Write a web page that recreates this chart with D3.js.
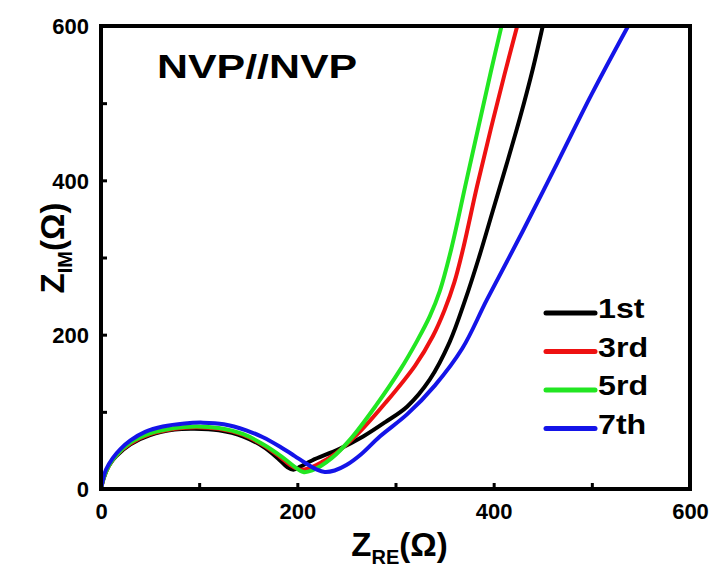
<!DOCTYPE html>
<html>
<head>
<meta charset="utf-8">
<script src="https://cdn.jsdelivr.net/npm/d3@7"></script>
<style>
  body { margin: 0; background: #fff; }
  text { font-family: "Liberation Sans", Arial, sans-serif; font-weight: bold; }
</style>
</head>
<body>
<div id="chart"></div>
<script>
// Nyquist data, [Z_RE, Z_IM] in ohm
var names = ["1st", "3rd", "5rd", "7th"];
var colors = ["#000000", "#ee1111", "#22e622", "#1414e8"];

var cycle1 = [[0,0],[3,15],[8,30],[15,42],[30,58],[50,70],[75,77],[95,78],[120,76],[145,68],
  [165,55],[180,40],[190,28],[196,25],[203,29],[215,37],[243,52],[267,68],[290,87],[312,107],
  [335,142],[355,190],[371,245],[385,300],[399,360],[413,420],[427,482],[440,545],[450,600]];
var cycle3 = [[0,0],[3,15],[8,30],[15,43],[30,59],[50,71],[75,78],[97,80],[120,78],[145,70],
  [165,57],[182,42],[194,30],[203,25],[212,27],[225,35],[240,47],[262,72],[290,112],[320,160],
  [338,198],[350,232],[360,268],[369,312],[383,392],[397,466],[411,537],[424,600]];
var cycle5 = [[0,0],[3,15],[8,30],[15,43],[30,60],[50,72],[75,79],[97,81],[120,79],[145,71],
  [165,58],[184,42],[197,29],[206,22],[215,24],[235,40],[255,66],[280,108],[305,155],
  [322,192],[335,224],[345,256],[357,312],[372,398],[385,472],[397,540],[408,600]];
var cycle7 = [[0,0],[2,12],[5,25],[12,40],[20,52],[30,63],[45,74],[63,81],[85,85],[104,86],
  [125,84],[148,76],[165,67],[182,55],[197,43],[209,33],[220,25],[228,22],[238,24],[250,31],
  [265,45],[284,68],[312,97],[340,134],[368,182],[393,245],[430,335],[465,423],[500,512],
  [537,600]];
var allCycles = [cycle1, cycle3, cycle5, cycle7];

var xTicks = [0, 200, 400, 600];
var yTicks = [0, 200, 400, 600];
var minorTicks = [100, 300, 500];

var W = 714, H = 567;
var margin = { top: 26, right: 24, bottom: 78, left: 101 };
var width = W - margin.left - margin.right,
  height = H - margin.top - margin.bottom;

var svg = d3.select("#chart").append("svg")
  .attr("width", W).attr("height", H);
var g = svg.append("g")
  .attr("transform", "translate(" + margin.left + "," + margin.top + ")");

var x = d3.scaleLinear().domain([0, 600]).range([0, width]);
var y = d3.scaleLinear().domain([0, 600]).range([height, 0]);

g.append("clipPath").attr("id", "clip")
  .append("rect").attr("width", width).attr("height", height);

// curves
var line = d3.line()
  .x(function (d) { return x(d[0]); })
  .y(function (d) { return y(d[1]); })
  .curve(d3.curveCatmullRom.alpha(0.5));

g.append("g").attr("clip-path", "url(#clip)")
  .selectAll("path")
  .data(allCycles)
  .enter()
  .append("path")
  .attr("d", line)
  .attr("fill", "none")
  .attr("stroke", function (d, i) { return colors[i]; })
  .attr("stroke-width", 4)
  .attr("stroke-linejoin", "round");

// axes, ticks pointing in
var xAxis = g.append("g").attr("transform", "translate(0," + height + ")")
  .call(d3.axisBottom(x).tickValues(xTicks).tickSizeInner(-6).tickSizeOuter(0).tickPadding(14));
var xMinor = g.append("g").attr("transform", "translate(0," + height + ")")
  .call(d3.axisBottom(x).tickValues(minorTicks).tickSizeInner(-6).tickSizeOuter(0).tickFormat(""));
var yAxis = g.append("g")
  .call(d3.axisLeft(y).tickValues(yTicks).tickSizeInner(-6).tickSizeOuter(0).tickPadding(12));
var yMinor = g.append("g")
  .call(d3.axisLeft(y).tickValues(minorTicks).tickSizeInner(-6).tickSizeOuter(0).tickFormat(""));

[xAxis, xMinor, yAxis, yMinor].forEach(function (a) {
  a.select(".domain").remove();
  a.selectAll("line").attr("stroke", "#000").attr("stroke-width", 3);
  a.selectAll("text").attr("font-size", 22).attr("fill", "#000")
    .style("font-family", "'Liberation Sans', Arial, sans-serif").style("font-weight", "bold");
});
yAxis.selectAll("text").attr("dy", "0.36em");

// frame
g.append("rect")
  .attr("width", width).attr("height", height)
  .attr("fill", "none").attr("stroke", "#000").attr("stroke-width", 4);

// title inside (the original lettering is a bit wide, so stretch it)
g.append("text")
  .attr("transform", "translate(56,52) scale(1.3,1)")
  .attr("font-size", 33)
  .text("NVP//NVP");

// legend
var legend = g.selectAll(".legend")
  .data(names)
  .enter()
  .append("g")
  .attr("transform", function (d, i) { return "translate(445," + (287 + i * 38.5) + ")"; });
legend.append("line")
  .attr("x1", 0).attr("x2", 49)
  .attr("stroke", function (d, i) { return colors[i]; })
  .attr("stroke-width", 5).attr("stroke-linecap", "round");
legend.append("text")
  .attr("transform", "translate(52,5) scale(1.15,1)")
  .attr("font-size", 28)
  .text(function (d) { return d; });

// axis titles
var xt = svg.append("text")
  .attr("x", margin.left + width / 2 + 4).attr("y", 556)
  .attr("text-anchor", "middle").attr("font-size", 33);
xt.append("tspan").text("Z");
xt.append("tspan").attr("font-size", 20).attr("dy", 8).text("RE");
xt.append("tspan").attr("dy", -8).text("(Ω)");

var yt = svg.append("text")
  .attr("transform", "translate(64,248) rotate(-90)")
  .attr("text-anchor", "middle").attr("font-size", 33);
yt.append("tspan").text("Z");
yt.append("tspan").attr("font-size", 20).attr("dy", 8).text("IM");
yt.append("tspan").attr("dy", -8).text("(Ω)");
</script>
</body>
</html>
